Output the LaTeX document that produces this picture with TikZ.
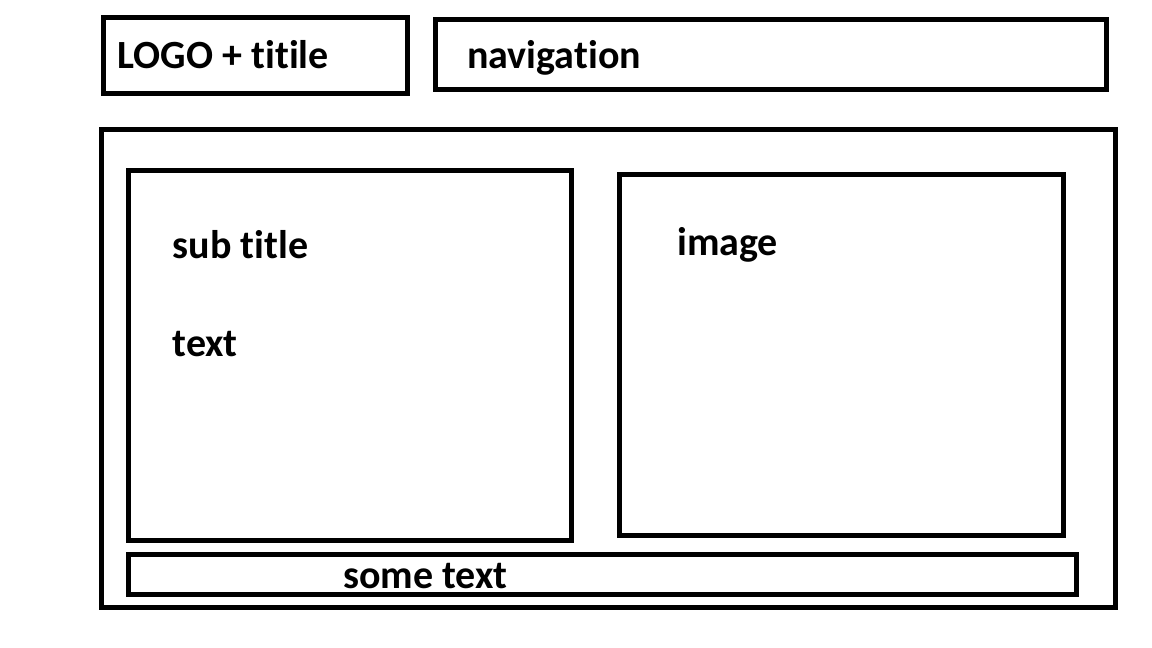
\documentclass[tikz,border=0pt]{standalone}
\usepackage{fontspec}
\setmainfont[Ligatures={NoCommon}]{Carlito}

\begin{document}
\begin{tikzpicture}[
    x=1pt, y=-1pt,
    panel/.style={draw=black, line width=5pt, fill=none},
    label/.style={anchor=base west, inner sep=0pt,
        font=\fontsize{40}{44}\selectfont\bfseries}
]
    \useasboundingbox (0,0) rectangle (1152,648);
    % header
    \draw[panel] (103.5,17.5) rectangle (407.5,93.5) coordinate (logo);
    \draw[panel] (435.5,19.5) rectangle (1106.5,89.5) coordinate (nav);
    % main area
    \draw[panel] (101.5,129.5) rectangle (1115.5,607.5) coordinate (main);
    \draw[panel] (128.5,170.5) rectangle (571,540.5) coordinate (content);
    \draw[panel] (619.5,174.5) rectangle (1063.5,535.5) coordinate (picture);
    \draw[panel] (128.5,554.5) rectangle (1076.5,594.5) coordinate (footer);
    % labels
    \node[label] (logotext) at (117.5,68) {LOGO + titile};
    \node[label] (navtext) at (467,68) {navigation};
    \node[label] (subtitle) at (172.5,258) {sub title};
    \node[label] (bodytext) at (172.5,356) {text};
    \node[label] (imagetext) at (677,255) {image};
    \node[label] (sometext) at (343,588) {some text};
\end{tikzpicture}
\end{document}
